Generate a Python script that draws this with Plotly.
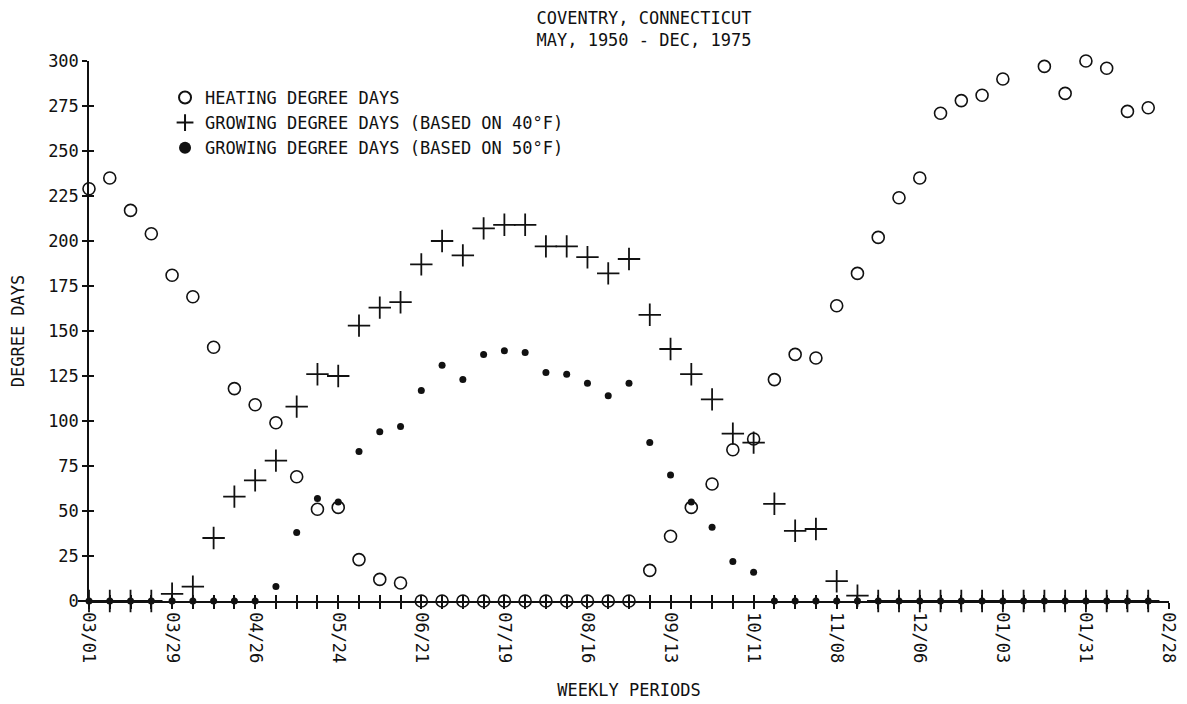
import plotly.graph_objects as go

weeks = list(range(52))
tick_weeks = list(range(0, 53, 4))
tick_labels = ["03/01", "03/29", "04/26", "05/24", "06/21", "07/19", "08/16",
               "09/13", "10/11", "11/08", "12/06", "01/03", "01/31", "02/28"]

heating = [229, 235, 217, 204, 181, 169, 141, 118, 109, 99, 69, 51, 52, 23, 12, 10,
           0, 0, 0, 0, 0, 0, 0, 0, 0, 0, 0, 17, 36, 52, 65, 84, 90, 123, 137, 135,
           164, 182, 202, 224, 235, 271, 278, 281, 290, 306, 297, 282, 300, 296, 272, 274]

gdd40 = [0, 0, 0, 0, 4, 8, 35, 58, 67, 78, 108, 126, 125, 153, 163, 166,
         187, 200, 192, 207, 209, 209, 197, 197, 191, 182, 190, 159, 140, 126, 112, 93,
         88, 54, 39, 40, 11, 3, 0, 0, 0, 0, 0, 0, 0, 0, 0, 0, 0, 0, 0, 0]

gdd50 = [0, 0, 0, 0, 0, 0, 0, 0, 0, 8, 38, 57, 55, 83, 94, 97,
         117, 131, 123, 137, 139, 138, 127, 126, 121, 114, 121, 88, 70, 55, 41, 22,
         16, 0, 0, 0, 0, 0, 0, 0, 0, 0, 0, 0, 0, 0, 0, 0, 0, 0, 0, 0]

y_ticks = list(range(0, 301, 25))

FONT = "DejaVu Sans Mono"
BLACK = "#111111"

fig = go.Figure()
fig.add_trace(go.Scatter(
    x=weeks, y=heating, mode="markers", name="HEATING DEGREE DAYS",
    marker=dict(symbol="circle-open", size=12, color=BLACK, line=dict(width=1.6, color=BLACK)),
    cliponaxis=False))
fig.add_trace(go.Scatter(
    x=weeks, y=gdd40, mode="markers", name="GROWING DEGREE DAYS (BASED ON 40°F)",
    marker=dict(symbol="cross-thin-open", size=16, color=BLACK, line=dict(width=1.8, color=BLACK)),
    cliponaxis=False))
fig.add_trace(go.Scatter(
    x=weeks, y=gdd50, mode="markers", name="GROWING DEGREE DAYS (BASED ON 50°F)",
    marker=dict(symbol="circle", size=7, color=BLACK),
    cliponaxis=False))
# dummy trace for the overlay axes (inner half of crossing ticks)
fig.add_trace(go.Scatter(x=[None], y=[None], xaxis="x2", yaxis="y2",
                         showlegend=False, hoverinfo="skip"))

fig.update_layout(
    width=1179, height=696,
    paper_bgcolor="white", plot_bgcolor="white",
    margin=dict(l=81, r=18, t=53, b=103),
    font=dict(family=FONT, size=17, color=BLACK),
    title=dict(text="COVENTRY, CONNECTICUT<br>MAY, 1950 - DEC, 1975",
               x=0.5394, xref="container", xanchor="center",
               y=0.9776, yref="container", yanchor="top",
               font=dict(family=FONT, size=17, color=BLACK)),
    showlegend=True,
    legend=dict(x=0.0704, y=0.965, xanchor="left", yanchor="top",
                bgcolor="rgba(0,0,0,0)", font=dict(family=FONT, size=17, color=BLACK),
                itemsizing="constant", tracegroupgap=0),
    xaxis=dict(range=[0, 52], showgrid=False, zeroline=False, automargin=False,
               showline=True, linecolor=BLACK, linewidth=1.5,
               tickmode="array", tickvals=tick_weeks, ticktext=tick_labels,
               tickangle=90, ticks="outside", ticklen=6, tickwidth=1.5, tickcolor=BLACK,
               tickfont=dict(family=FONT, size=17, color=BLACK),
               minor=dict(tickmode="array", tickvals=list(range(53)), ticks="outside",
                          ticklen=6, tickwidth=1.5, tickcolor=BLACK),
               title=dict(text="WEEKLY PERIODS", standoff=22,
                          font=dict(family=FONT, size=17, color=BLACK))),
    yaxis=dict(range=[0, 300], showgrid=False, zeroline=False, automargin=False,
               showline=True, linecolor=BLACK, linewidth=1.5,
               tickmode="array", tickvals=y_ticks,
               ticks="outside", ticklen=5, tickwidth=1.5, tickcolor=BLACK,
               tickfont=dict(family=FONT, size=17, color=BLACK),
               title=dict(text="DEGREE DAYS", standoff=29,
                          font=dict(family=FONT, size=17, color=BLACK))),
    xaxis2=dict(overlaying="x", anchor="y2", range=[0, 52], showgrid=False, zeroline=False,
                showline=False, tickmode="array", tickvals=tick_weeks,
                ticks="inside", ticklen=6, tickwidth=1.5, tickcolor=BLACK,
                showticklabels=False,
                minor=dict(tickmode="array", tickvals=list(range(53)), ticks="inside",
                           ticklen=6, tickwidth=1.5, tickcolor=BLACK)),
    yaxis2=dict(overlaying="y", anchor="x2", range=[0, 300], showgrid=False, zeroline=False,
                showline=False, tickmode="array", tickvals=y_ticks,
                ticks="inside", ticklen=5, tickwidth=1.5, tickcolor=BLACK,
                showticklabels=False),
)

fig.write_html("out.html")
